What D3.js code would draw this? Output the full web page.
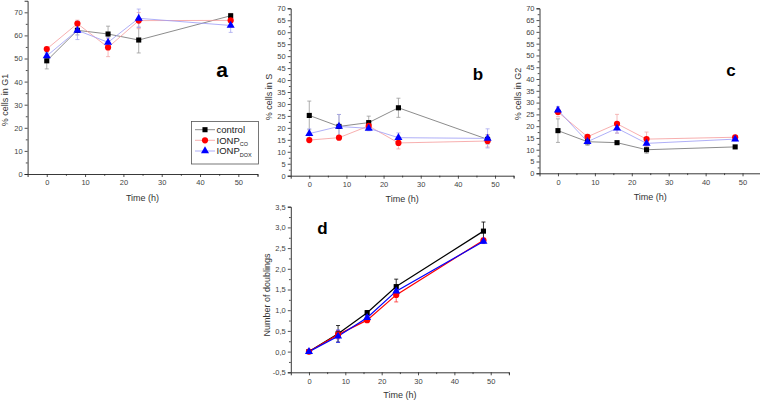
<!DOCTYPE html>
<html><head><meta charset="utf-8">
<script src="https://cdn.jsdelivr.net/npm/d3@7"></script>
<style>body{margin:0;background:#fff}svg{display:block;font-family:"Liberation Sans",Arial,sans-serif}</style>
</head><body><svg id="c" width="760" height="400"></svg>
<script>
const time = [0, 8, 16, 24, 48];
const seriesNames = ["control", "IONP", "IONP"];
const seriesSubs = ["", "CO", "DOX"];

const g1Control = [49.0, 62.2, 60.6, 58.0, 68.5];
const g1ControlErr = [3.5, 2.0, 3.4, 5.6, 1.0];
const g1Co = [54.1, 65.1, 54.8, 66.4, 66.5];
const g1CoErr = [0.8, 1.5, 4.0, 3.5, 3.0];
const g1Dox = [51.1, 62.2, 57.0, 67.4, 64.3];
const g1DoxErr = [1.0, 4.0, 2.0, 4.0, 3.0];

const sControl = [25.2, 20.6, 22.2, 28.4, 15.2];
const sControlErr = [6.0, 5.0, 2.7, 4.0, 2.0];
const sCo = [14.9, 15.9, 20.8, 13.7, 14.5];
const sCoErr = [0.8, 0.8, 1.0, 2.5, 2.5];
const sDox = [17.6, 20.6, 19.8, 15.9, 15.6];
const sDoxErr = [2.0, 5.0, 1.0, 2.0, 4.0];

const g2Control = [18.1, 13.4, 13.0, 10.0, 11.2];
const g2ControlErr = [5.0, 1.5, 0.5, 1.5, 0.5];
const g2Co = [26.0, 15.5, 21.0, 14.5, 15.3];
const g2CoErr = [2.0, 1.0, 4.0, 3.0, 0.8];
const g2Dox = [26.8, 13.4, 19.1, 12.7, 14.5];
const g2DoxErr = [1.5, 1.0, 2.0, 1.0, 0.8];

const dControl = [0, 0.43, 0.94, 1.57, 2.91];
const dControlErr = [0.02, 0.2, 0.05, 0.18, 0.22];
const dCo = [0, 0.41, 0.76, 1.37, 2.69];
const dCoErr = [0.02, 0.1, 0.05, 0.17, 0.05];
const dDox = [0, 0.37, 0.82, 1.46, 2.66];
const dDoxErr = [0.02, 0.15, 0.05, 0.1, 0.05];

const svg = d3.select("#c");

const lightStyle = [
  {line:"#6e6e6e", err:"#9a9a9a", fill:"#000"},
  {line:"#f59a9a", err:"#f2a8a8", fill:"#ff0000"},
  {line:"#9b9bf5", err:"#a8a8ef", fill:"#0000ff"}
];
const darkStyle = [
  {line:"#000", err:"#000", fill:"#000"},
  {line:"#ff0000", err:"#ff3030", fill:"#ff0000"},
  {line:"#0000ff", err:"#3030ff", fill:"#0000ff"}
];
const shapes = [d3.symbolSquare, d3.symbolCircle, d3.symbolTriangle];
const sizes = [26, 30, 28];

function panel(cfg){
  const g = svg.append("g");
  const x = d3.scaleLinear().domain([-5,55]).range([cfg.x0, cfg.x1]);
  const y = d3.scaleLinear().domain(cfg.ydom).range([cfg.ybot, cfg.ytop]);
  g.append("g").attr("transform",`translate(0,${cfg.ybot})`)
    .call(d3.axisBottom(x).tickValues([0,10,20,30,40,50]).tickSize(3).tickPadding(3).tickFormat(d3.format("d")));
  g.append("g").attr("transform",`translate(0,${cfg.ybot})`)
    .call(d3.axisBottom(x).tickValues([5,15,25,35,45,55]).tickSize(1.8).tickFormat(""))
    .call(s=>s.select(".domain").remove());
  g.append("g").attr("transform",`translate(${cfg.x0},0)`)
    .call(d3.axisLeft(y).tickValues(cfg.yticks).tickSize(3).tickPadding(2).tickFormat(cfg.yfmt));
  g.append("g").attr("transform",`translate(${cfg.x0},0)`)
    .call(d3.axisLeft(y).tickValues(cfg.yminor).tickSize(1.8).tickFormat(""))
    .call(s=>s.select(".domain").remove());
  g.selectAll(".domain").attr("stroke","#222").attr("stroke-width",0.9);
  g.selectAll(".tick line").attr("stroke","#222").attr("stroke-width",0.8);
  g.selectAll(".tick text").attr("font-size","7.5px").attr("fill","#444")
    .attr("font-family","'Liberation Sans',Arial,sans-serif");
  g.append("text").attr("x",(cfg.x0+cfg.x1)/2).attr("y",cfg.xtY)
    .attr("text-anchor","middle").attr("font-size","9px").attr("fill","#333").text("Time (h)");
  g.append("text").attr("transform",`translate(${cfg.ytX},${cfg.ytY}) rotate(-90)`)
    .attr("text-anchor","middle").attr("font-size","9px").attr("fill","#333").text(cfg.ytitle);
  g.append("text").attr("x",cfg.lx).attr("y",cfg.ly).attr("text-anchor","middle")
    .attr("font-size",cfg.lsize).attr("font-weight","bold").attr("fill","#000").text(cfg.letter);
  const st = cfg.style;
  const line = d3.line().x((d,i)=>x(time[i])).y(d=>y(d));
  cfg.series.forEach((s,k)=>{
    const vals = s[0], errs = s[1];
    const eg = g.append("g");
    vals.forEach((v,i)=>{
      const cx = x(time[i]);
      eg.append("line").attr("x1",cx).attr("x2",cx).attr("y1",y(v-errs[i])).attr("y2",y(v+errs[i]))
        .attr("stroke",st[k].err).attr("stroke-width",0.8);
      [v-errs[i], v+errs[i]].forEach(e=>{
        eg.append("line").attr("x1",cx-2).attr("x2",cx+2).attr("y1",y(e)).attr("y2",y(e))
          .attr("stroke",st[k].err).attr("stroke-width",0.8);
      });
    });
    g.append("path").attr("d",line(vals)).attr("fill","none")
      .attr("stroke",st[k].line).attr("stroke-width",cfg.lw);
  });
  cfg.series.forEach((s,k)=>{
    s[0].forEach((v,i)=>{
      g.append("path").attr("d",d3.symbol().type(shapes[k]).size(sizes[k])())
        .attr("transform",`translate(${x(time[i])},${y(v)})`).attr("fill",st[k].fill);
    });
  });
  return {g,x,y};
}

const pctFmt = d3.format("d");
const commaFmt = v => d3.format(".1f")(v).replace(".",",").replace("−","-");

panel({x0:27.6, x1:257.5, ybot:174, ytop:174-75*2.31, ydom:[0,75],
  yticks:d3.range(0,71,10), yminor:d3.range(5,75,10), yfmt:pctFmt,
  xtY:201, ytX:8, ytY:100, ytitle:"% cells in G1", letter:"a", lx:222, ly:77, lsize:"21px",
  style:lightStyle, lw:0.8,
  series:[[g1Control,g1ControlErr],[g1Co,g1CoErr],[g1Dox,g1DoxErr]]});

panel({x0:290.7, x1:513.6, ybot:175.7, ytop:8.3, ydom:[0,70],
  yticks:d3.range(0,71,5), yminor:d3.range(2.5,70,5), yfmt:pctFmt,
  xtY:201.5, ytX:272, ytY:97, ytitle:"% cells in S", letter:"b", lx:478, ly:80, lsize:"17px",
  style:lightStyle, lw:0.8,
  series:[[sControl,sControlErr],[sCo,sCoErr],[sDox,sDoxErr]]});

panel({x0:539.5, x1:761, ybot:173.3, ytop:8.3, ydom:[0,70],
  yticks:d3.range(0,71,5), yminor:d3.range(2.5,70,5), yfmt:pctFmt,
  xtY:199.5, ytX:521, ytY:94, ytitle:"% cells in G2", letter:"c", lx:731, ly:76, lsize:"17px",
  style:lightStyle, lw:0.8,
  series:[[g2Control,g2ControlErr],[g2Co,g2CoErr],[g2Dox,g2DoxErr]]});

panel({x0:290.8, x1:508.9, ybot:372.3, ytop:206.7, ydom:[-0.5,3.5],
  yticks:d3.range(-0.5,3.51,0.5), yminor:d3.range(-0.25,3.5,0.5), yfmt:commaFmt,
  xtY:397.5, ytX:270, ytY:295, ytitle:"Number of doublings", letter:"d", lx:322.5, ly:234, lsize:"17px",
  style:darkStyle, lw:1.2,
  series:[[dControl,dControlErr],[dCo,dCoErr],[dDox,dDoxErr]]});

const lg = svg.append("g");
lg.append("rect").attr("x",191.5).attr("y",121.5).attr("width",67).attr("height",42.5)
  .attr("fill","#fff").attr("stroke","#555").attr("stroke-width",0.8);
const rowY = [129.7, 140.3, 151];
seriesNames.forEach((n,k)=>{
  lg.append("line").attr("x1",195).attr("x2",215).attr("y1",rowY[k]).attr("y2",rowY[k])
    .attr("stroke",lightStyle[k].line).attr("stroke-width",0.8);
  lg.append("path").attr("d",d3.symbol().type(shapes[k]).size(sizes[k])())
    .attr("transform",`translate(205,${rowY[k]})`).attr("fill",lightStyle[k].fill);
  const t = lg.append("text").attr("x",216.5).attr("y",rowY[k]+3.3).attr("font-size","9.5px").attr("fill","#222");
  t.append("tspan").text(n);
  if(seriesSubs[k]) t.append("tspan").attr("font-size","5.5px").attr("dy",2.5).text(seriesSubs[k]);
});
</script></body></html>
